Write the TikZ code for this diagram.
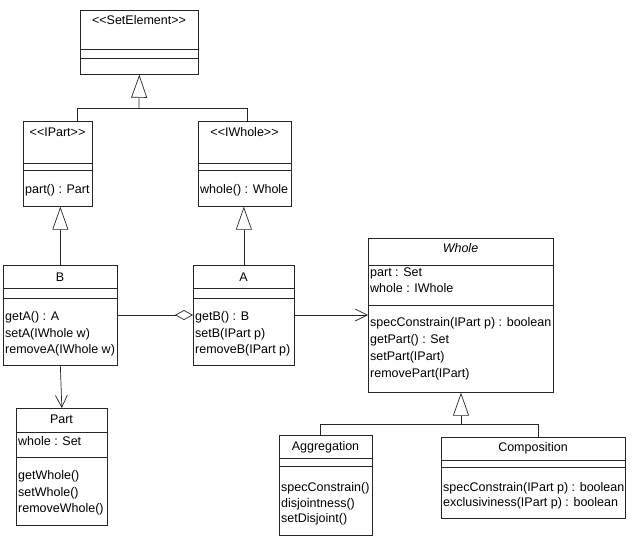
\documentclass[tikz,border=0pt]{standalone}
\usepackage{fontspec}
\setmainfont{Liberation Sans}
\usetikzlibrary{arrows.meta}
\begin{document}
\begin{tikzpicture}[x=1pt,y=-1pt,
  box/.style={draw=black!85, line width=0.7pt, anchor=north west, inner sep=0pt},
  lbl/.style={anchor=base west, inner sep=0pt, font=\fontsize{12.5}{14}\selectfont},
  ttl/.style={anchor=base, inner sep=0pt, font=\fontsize{12.5}{14}\selectfont},
  conn/.style={draw=black!85, line width=0.7pt},
  gen/.style={conn, -{Triangle[open, length=23pt, width=16pt, line width=0.7pt]}},
  nav/.style={conn, -{Straight Barb[length=12pt, width=12pt, line width=0.7pt]}},
  aggr/.style={conn, -{Diamond[open, length=18pt, width=10pt, line width=0.7pt]}}
]
\useasboundingbox (0,0) rectangle (639,536);

% SetElement
\node[box, minimum width=118pt, minimum height=64pt] (SE) at (80,10) {};
\draw[conn] (SE.west |- 0,49) -- (SE.east |- 0,49);
\draw[conn] (SE.west |- 0,58) -- (SE.east |- 0,58);
\node[ttl] (SEt) at (139,24) {<\kern0pt<SetElement>\kern0pt>};

% IPart
\node[box, minimum width=69pt, minimum height=85pt] (IPart) at (23,121) {};
\draw[conn] (IPart.west |- 0,163) -- (IPart.east |- 0,163);
\draw[conn] (IPart.west |- 0,170) -- (IPart.east |- 0,170);
\node[ttl] (IPartt) at (57.5,136) {<\kern0pt<IPart>\kern0pt>};
\node[lbl] (IPartm) at (25,193) {part() : Part};

% IWhole
\node[box, minimum width=93pt, minimum height=85pt] (IWhole) at (198,121) {};
\draw[conn] (IWhole.west |- 0,163) -- (IWhole.east |- 0,163);
\draw[conn] (IWhole.west |- 0,170) -- (IWhole.east |- 0,170);
\node[ttl] (IWholet) at (244.5,136) {<\kern0pt<IWhole>\kern0pt>};
\node[lbl] (IWholem) at (200,193) {whole() : Whole};

% generalization to SetElement
\coordinate (j1) at (139,108);
\draw[conn] (77,121) |- (j1);
\draw[conn] (247,121) |- (j1);
\draw[gen] (j1) -- (SE.south);

% B
\node[box, minimum width=114pt, minimum height=100pt] (B) at (3,265) {};
\draw[conn] (B.west |- 0,288) -- (B.east |- 0,288);
\draw[conn] (B.west |- 0,298) -- (B.east |- 0,298);
\node[ttl] (Bt) at (60,281) {B};
\node[lbl] (Bm1) at (5,320) {getA() : A};
\node[lbl] (Bm2) at (5,337) {setA(IWhole w)};
\node[lbl] (Bm3) at (5,353) {removeA(IWhole w)};

% A
\node[box, minimum width=101pt, minimum height=100pt] (A) at (193,265) {};
\draw[conn] (A.west |- 0,288) -- (A.east |- 0,288);
\draw[conn] (A.west |- 0,298) -- (A.east |- 0,298);
\node[ttl] (At) at (243.5,281) {A};
\node[lbl] (Am1) at (195,320) {getB() : B};
\node[lbl] (Am2) at (195,337) {setB(IPart p)};
\node[lbl] (Am3) at (195,353) {removeB(IPart p)};

\draw[gen] (B.north) -- (B.north |- IPart.south);
\draw[gen] (A.north) -- (A.north |- IWhole.south);
\draw[aggr] (B.east |- 0,315) -- (A.west |- 0,315);

% Part
\node[box, minimum width=91pt, minimum height=117pt] (Part) at (16,408) {};
\draw[conn] (Part.west |- 0,432) -- (Part.east |- 0,432);
\draw[conn] (Part.west |- 0,457) -- (Part.east |- 0,457);
\node[ttl] (Partt) at (61.5,423) {Part};
\node[lbl] (Parta) at (18,445) {whole : Set};
\node[lbl] (Partm1) at (18,479) {getWhole()};
\node[lbl] (Partm2) at (18,496) {setWhole()};
\node[lbl] (Partm3) at (18,512) {removeWhole()};
\draw[nav] (B.south) -- (Part.north);

% Whole
\node[box, minimum width=185pt, minimum height=154pt] (Whole) at (368,238) {};
\draw[conn] (Whole.west |- 0,265) -- (Whole.east |- 0,265);
\draw[conn] (Whole.west |- 0,305) -- (Whole.east |- 0,305);
\node[ttl] (Wholet) at (460.5,252) {\itshape Whole};
\node[lbl] (Wholea1) at (370,276) {part : Set};
\node[lbl] (Wholea2) at (370,292) {whole : IWhole};
\node[lbl] (Wholem1) at (370,326) {specConstrain(IPart p) : boolean};
\node[lbl] (Wholem2) at (370,343) {getPart() : Set};
\node[lbl] (Wholem3) at (370,360) {setPart(IPart)};
\node[lbl] (Wholem4) at (370,377) {removePart(IPart)};
\draw[nav] (A.east |- 0,315) -- (Whole.west |- 0,315);

% Aggregation
\node[box, minimum width=93pt, minimum height=100pt] (Agg) at (279,435) {};
\draw[conn] (Agg.west |- 0,458) -- (Agg.east |- 0,458);
\draw[conn] (Agg.west |- 0,466) -- (Agg.east |- 0,466);
\node[ttl] (Aggt) at (325.5,450) {Aggregation};
\node[lbl] (Aggm1) at (281,491) {specConstrain()};
\node[lbl] (Aggm2) at (281,507) {disjointness()};
\node[lbl] (Aggm3) at (281,522) {setDisjoint()};

% Composition
\node[box, minimum width=184pt, minimum height=81pt] (Comp) at (441,437) {};
\draw[conn] (Comp.west |- 0,460) -- (Comp.east |- 0,460);
\draw[conn] (Comp.west |- 0,467) -- (Comp.east |- 0,467);
\node[ttl] (Compt) at (533,451) {Composition};
\node[lbl] (Compm1) at (443,491) {specConstrain(IPart p) : boolean};
\node[lbl] (Compm2) at (443,506) {exclusiviness(IPart p) : boolean};

% generalization to Whole
\coordinate (j2) at (461,424);
\draw[conn] (320,435) |- (j2);
\draw[conn] (538,437) |- (j2);
\draw[gen] (j2) -- (j2 |- Whole.south);
\end{tikzpicture}
\end{document}
